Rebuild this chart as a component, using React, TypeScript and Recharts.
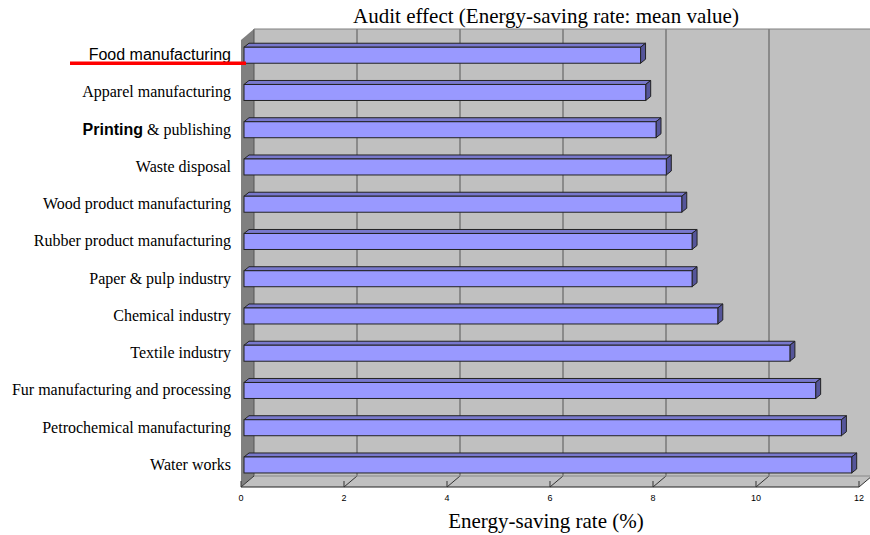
import React from 'react';
import { BarChart, Bar, XAxis, YAxis, CartesianGrid } from 'recharts';

const CATEGORIES = [
  'Food manufacturing',
  'Apparel manufacturing',
  'Printing & publishing',
  'Waste disposal',
  'Wood product manufacturing',
  'Rubber product manufacturing',
  'Paper & pulp industry',
  'Chemical industry',
  'Textile industry',
  'Fur manufacturing and processing',
  'Petrochemical manufacturing',
  'Water works',
];
const SAVING_RATE = [7.7, 7.8, 8.0, 8.2, 8.5, 8.7, 8.7, 9.2, 10.6, 11.1, 11.6, 11.8];
const X_TICKS = [0, 2, 4, 6, 8, 10, 12];
const TITLE = 'Audit effect (Energy-saving rate: mean value)';
const X_LABEL = 'Energy-saving rate (%)';

const data = CATEGORIES.map((name, i) => ({ name, value: SAVING_RATE[i] }));

// layout constants
const CHART_W = 880;
const CHART_H = 535;
const PLOT_LEFT = 254;
const PLOT_TOP = 29;
const PLOT_RIGHT = 872;
const PLOT_BOTTOM = 476;
const DEPTH_X = 13;
const DEPTH_Y = 11;
const FRONT_Y = PLOT_BOTTOM + DEPTH_Y;
const SERIF = '"Liberation Serif", "Times New Roman", serif';
const SANS = '"Liberation Sans", Arial, sans-serif';

const Bar3D = (props: any) => {
  const { x, y, width, height } = props;
  const cy = y + height / 2;
  const top = cy - 0.5;
  const h = 16;
  const bx = 5;
  const by = 4;
  const x0 = x - 10;
  const x1 = x + width - 10;
  return (
    <g>
      <polygon
        points={`${x0},${top} ${x0 + bx},${top - by} ${x1 + bx},${top - by} ${x1},${top}`}
        fill="#7878CC"
        stroke="#222"
        strokeWidth={1}
        strokeLinejoin="round"
      />
      <polygon
        points={`${x1},${top} ${x1 + bx},${top - by} ${x1 + bx},${top + h - by} ${x1},${top + h}`}
        fill="#55559A"
        stroke="#222"
        strokeWidth={1}
        strokeLinejoin="round"
      />
      <rect x={x0} y={top} width={Math.max(0, x1 - x0)} height={h} fill="#9999FF" stroke="#222" strokeWidth={1} />
    </g>
  );
};

const CategoryTick = (props: any) => {
  const { y, payload } = props;
  const name: string = payload.value;
  const tx = 231;
  const ty = y + 7.5 + 5;
  if (name === 'Food manufacturing') {
    return (
      <text x={tx} y={ty} textAnchor="end" fontFamily={SANS} fontSize={16} fill="#000">
        {name}
      </text>
    );
  }
  if (name.startsWith('Printing')) {
    return (
      <text x={tx} y={ty} textAnchor="end" fontFamily={SERIF} fontSize={16} fill="#000">
        <tspan fontFamily={SANS} fontWeight="bold">Printing</tspan>
        <tspan>{name.slice('Printing'.length)}</tspan>
      </text>
    );
  }
  return (
    <text x={tx} y={ty} textAnchor="end" fontFamily={SERIF} fontSize={16} fill="#000">
      {name}
    </text>
  );
};

const ValueTick = (props: any) => {
  const { x, payload } = props;
  const fx = x - DEPTH_X;
  return (
    <g>
      <line x1={fx} y1={FRONT_Y} x2={x} y2={PLOT_BOTTOM} stroke="#333" strokeWidth={1} />
      <line x1={fx} y1={FRONT_Y} x2={fx} y2={FRONT_Y - 6} stroke="#333" strokeWidth={1} />
      <text x={fx} y={FRONT_Y + 14} textAnchor="middle" fontFamily={SANS} fontSize={9} fill="#000">
        {payload.value}
      </text>
    </g>
  );
};

export default function App() {
  return (
    <div style={{ position: 'absolute', left: 0, top: 0, width: 870, height: 535, overflow: 'hidden', background: '#fff' }}>
      <svg style={{ position: 'absolute', left: 0, top: 0 }} width={CHART_W} height={CHART_H}>
        <polygon
          points={`${PLOT_LEFT - DEPTH_X},${PLOT_TOP + DEPTH_Y} ${PLOT_LEFT},${PLOT_TOP} ${PLOT_LEFT},${PLOT_BOTTOM} ${PLOT_LEFT - DEPTH_X},${FRONT_Y}`}
          fill="#808080"
        />
        <polygon
          points={`${PLOT_LEFT - DEPTH_X},${FRONT_Y} ${PLOT_LEFT},${PLOT_BOTTOM} ${PLOT_RIGHT},${PLOT_BOTTOM} ${PLOT_RIGHT - DEPTH_X},${FRONT_Y}`}
          fill="#C0C0C0"
        />
        <line x1={PLOT_LEFT - DEPTH_X} y1={FRONT_Y} x2={PLOT_RIGHT - DEPTH_X} y2={FRONT_Y} stroke="#222" strokeWidth={1.2} />
      </svg>
      <div style={{ position: 'absolute', left: 0, top: 0 }}>
        <BarChart
          width={CHART_W}
          height={CHART_H}
          data={data}
          layout="vertical"
          margin={{ top: PLOT_TOP, right: CHART_W - PLOT_RIGHT, bottom: 0, left: 0 }}
        >
          <CartesianGrid horizontal={false} vertical={true} fill="#C0C0C0" fillOpacity={1} stroke="#555" strokeWidth={1} />
          <XAxis
            type="number"
            domain={[0, 12]}
            ticks={X_TICKS}
            interval={0}
            height={CHART_H - PLOT_BOTTOM - PLOT_TOP + PLOT_TOP}
            axisLine={false}
            tickLine={false}
            tick={<ValueTick />}
          />
          <YAxis
            type="category"
            dataKey="name"
            width={PLOT_LEFT}
            interval={0}
            axisLine={false}
            tickLine={false}
            tick={<CategoryTick />}
          />
          <Bar dataKey="value" isAnimationActive={false} shape={<Bar3D />} />
        </BarChart>
      </div>
      <svg style={{ position: 'absolute', left: 0, top: 0, pointerEvents: 'none' }} width={870} height={535}>
        <line x1={PLOT_LEFT} y1={PLOT_TOP} x2={PLOT_RIGHT} y2={PLOT_TOP} stroke="#808080" strokeWidth={1} />
        <line x1={PLOT_LEFT} y1={PLOT_BOTTOM} x2={PLOT_RIGHT} y2={PLOT_BOTTOM} stroke="#888" strokeWidth={1} />
        <text x={546} y={23} textAnchor="middle" fontFamily={SERIF} fontSize={21} fill="#000">
          {TITLE}
        </text>
        <text x={546} y={528} textAnchor="middle" fontFamily={SERIF} fontSize={21} fill="#000">
          {X_LABEL}
        </text>
        <rect x={70} y={61.5} width={176} height={3.5} fill="#FF0000" />
      </svg>
    </div>
  );
}
